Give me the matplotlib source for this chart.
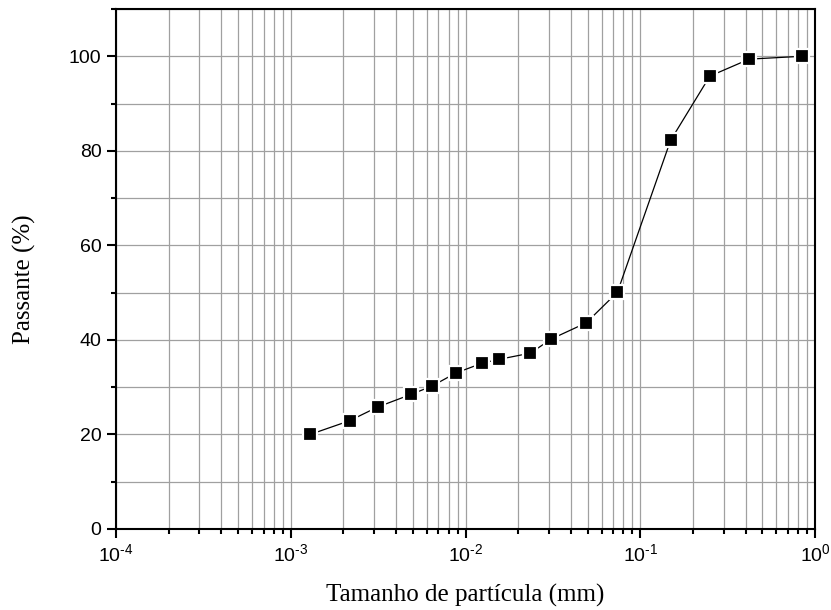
import matplotlib
matplotlib.use('Agg')
import matplotlib.pyplot as plt
import matplotlib.ticker as ticker
import numpy as np

# Particle size (mm) and percent passing.
diameter = [0.00129, 0.00217, 0.00314, 0.0049, 0.0064, 0.0088, 0.0125,
            0.0156, 0.0235, 0.031, 0.049, 0.074, 0.149, 0.25, 0.42, 0.84]
passing = [20.0, 22.9, 25.8, 28.5, 30.2, 33.0, 35.1, 35.9, 37.2, 40.2,
           43.6, 50.1, 82.2, 95.8, 99.4, 100.0]

x_ticks = [1e-4, 1e-3, 1e-2, 1e-1, 1e0]
x_ticklabels = [r'$\mathregular{10^{\text{-}4}}$', r'$\mathregular{10^{\text{-}3}}$',
                r'$\mathregular{10^{\text{-}2}}$', r'$\mathregular{10^{\text{-}1}}$',
                r'$\mathregular{10^{0}}$']
y_ticks = [0, 20, 40, 60, 80, 100]

plt.rcParams['font.family'] = 'Liberation Sans'
plt.rcParams['mathtext.fontset'] = 'custom'
plt.rcParams['mathtext.rm'] = 'Liberation Sans'

fig = plt.figure(figsize=(8.31, 6.10), dpi=100)
ax = fig.add_axes([0.1396, 0.1328, 0.8412, 0.8524])

ax.plot(diameter, passing, '-', color='black', lw=0.9,
        marker='s', ms=9.5, mfc='black', mec='white', mew=1.6, zorder=3)

ax.set_xscale('log')
ax.set_xlim(1e-4, 1e0)
ax.set_ylim(0, 110)

ax.set_xticks(x_ticks)
ax.set_xticklabels(x_ticklabels)
ax.xaxis.set_minor_locator(ticker.LogLocator(base=10, subs=np.arange(2, 10)))
ax.xaxis.set_minor_formatter(ticker.NullFormatter())
ax.set_yticks(y_ticks)
ax.yaxis.set_minor_locator(ticker.MultipleLocator(10))

ax.grid(True, which='both', color='#a0a0a0', lw=0.9)
ax.set_axisbelow(True)

for s in ax.spines.values():
    s.set_linewidth(1.5)

ax.tick_params(which='major', direction='out', length=6.5, width=1.5,
               labelsize=14, pad=4)
ax.tick_params(which='minor', direction='out', length=3.5, width=1.5)

ax.set_xlabel('Tamanho de partícula (mm)', family='Liberation Serif',
              fontsize=18)
ax.set_ylabel('Passante (%)', family='Liberation Serif', fontsize=18)
ax.xaxis.set_label_coords(0.5, -0.105)
ax.yaxis.set_label_coords(-0.115, 0.48)

fig.savefig('out.png', dpi=100)
